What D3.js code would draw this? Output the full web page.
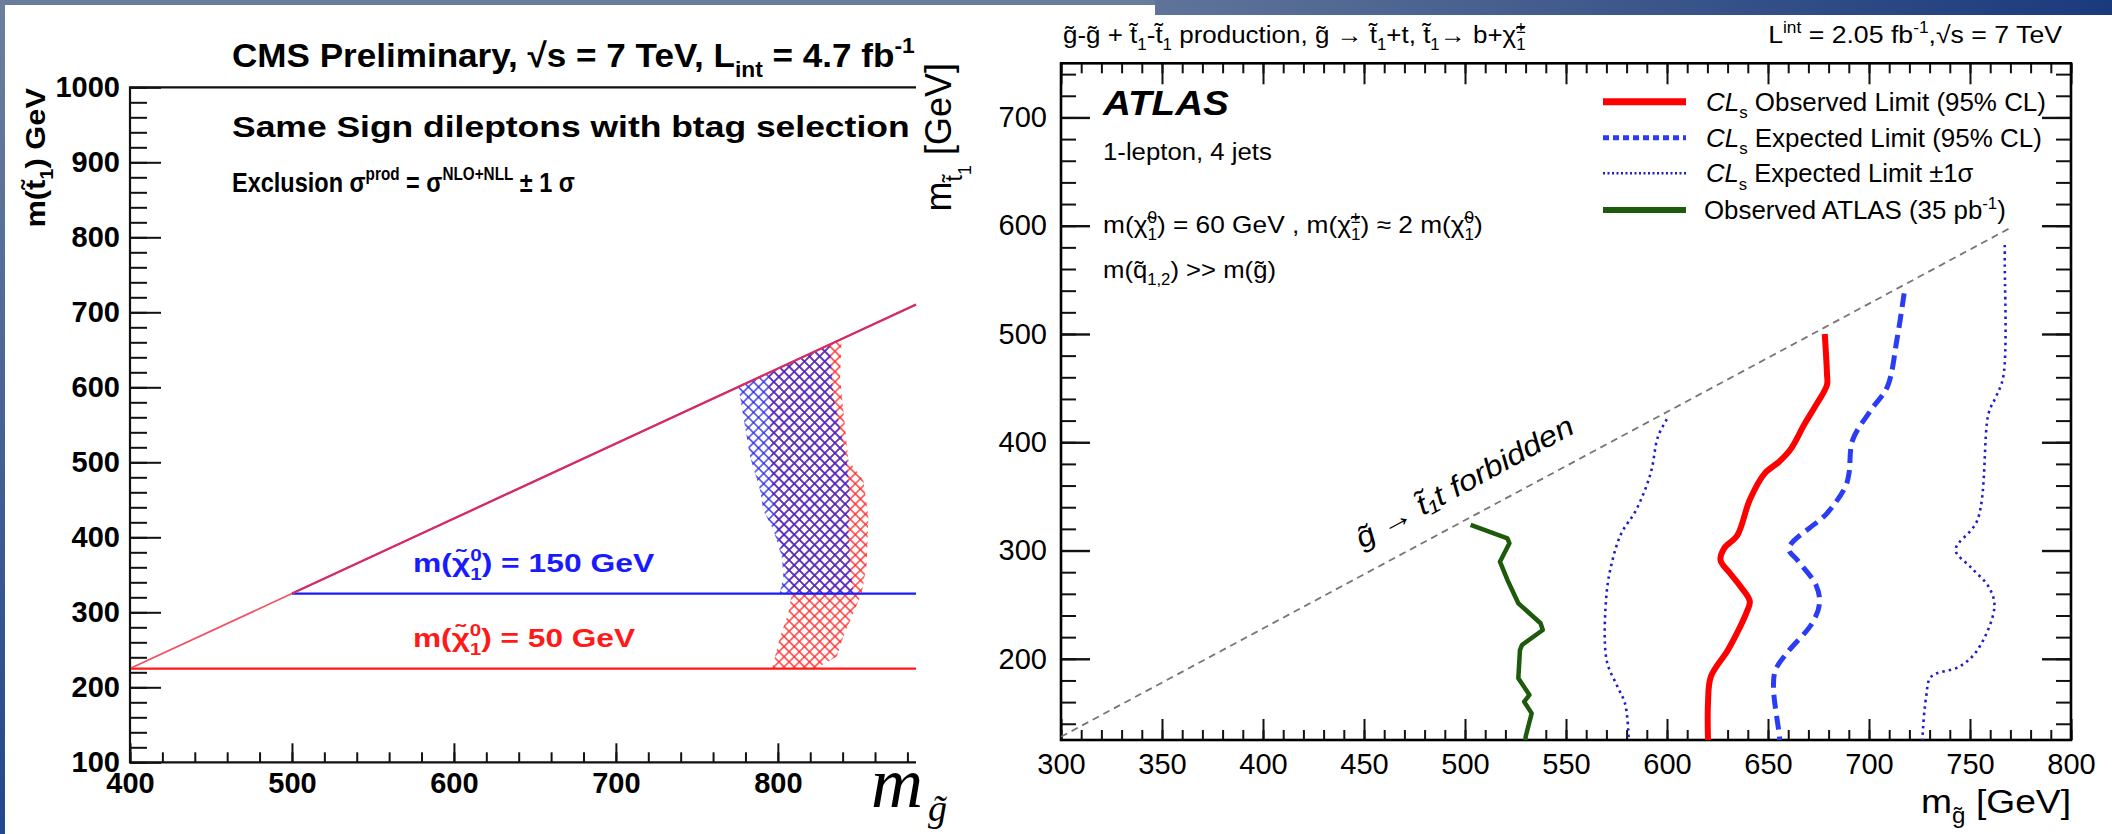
<!DOCTYPE html>
<html><head><meta charset="utf-8">
<script src="https://cdn.jsdelivr.net/npm/d3@7"></script>
<style>html,body{margin:0;padding:0;background:#fff;overflow:hidden}svg{display:block}</style>
</head><body>
<svg id="c" width="2112" height="834"></svg>
<script>
// ================= DATA =================
// --- CMS panel (left) ---
const cmsXTicks = [400, 500, 600, 700, 800];
const cmsYTicks = [100, 200, 300, 400, 500, 600, 700, 800, 900, 1000];
const lspMasses = [50, 150];            // neutralino mass of each scenario
const lspStopMin = [225, 325];          // stop mass at kinematic threshold (horizontal lines)
const lspGluinoMin = [400, 500];        // gluino mass where the diagonal starts
const lspColors = ["#ff1a1a", "#1a1aff"];
const diagColors = ["#f2505f", "#d42c62"];
const topMass = 175;
// exclusion bands (gluino mass, stop mass), left edge top->bottom, right edge top->bottom
const band50Left  = [[794.5,619.5],[795.2,543],[796.2,463],[799.3,410],[804.4,365],[808.6,325],[806.5,299],[801.4,267.5],[797.2,232],[796.5,225]];
const band50Right = [[839.4,664.4],[838.4,614],[843.5,503],[852.8,476],[855.9,427.5],[854.9,365],[851.8,325],[840.4,267.5],[836.4,241],[826,228],[824,225]];
const band150Left  = [[775.6,600.6],[778.7,561],[782.8,507.5],[789,463],[791,436],[797.2,410],[802.4,374],[803.4,347.5],[801.4,327.5],[801,325]];
const band150Right = [[832,657],[834.3,587.5],[842.5,503],[844.6,454],[843.5,410],[844.6,365],[846.6,325]];

// --- ATLAS panel (right) ---
const atlasXMajor = [300,350,400,450,500,550,600,650,700,750,800];
const atlasYMajor = [200,300,400,500,600,700];
const obsLimit = [[678.1,500],[679.2,463],[679.2,453],[674,435],[668.3,417.5],[661,393],[655.5,382],[648.3,371],[641,347],[634.8,314],[628.3,302],[626.5,291],[631.2,279],[636.3,267],[641,253],[639.2,242],[636.3,230],[630.1,208],[621.7,183.5],[620.3,159],[620.3,125]];
const expLimit = [[717.4,537.6],[713.8,494.4],[709.1,451.3],[701,429.8],[691.9,402],[690.1,371.3],[688.3,359],[679.2,334.4],[660.3,302],[664.6,291],[673.8,268],[675.5,251],[671.9,233],[659.2,205],[653.8,190],[652.7,174],[655.5,131],[655.8,125]];
const expMinus1s = [[599.9,421.2],[595.5,405],[591.9,371.3],[584.7,337.4],[577.4,315.9],[573,291],[570.1,260.5],[570.1,198.9],[575.5,174.2],[579.2,158.9],[581,128],[581,125]];
const expPlus1s = [[767.2,582.2],[767.2,568.3],[766.5,460.6],[762.9,442.1],[759.2,426.7],[753.7,328.2],[742.9,300.5],[750.1,285.1],[759.2,266.6],[762.1,248.1],[753.7,208.1],[744.7,192.7],[730.8,183.5],[728.3,165],[726.5,128],[726.5,125]];
const atlas35 = [[502.8,323.6],[521,311.3],[522,306.7],[517.3,289.7],[521,272.8],[526.4,251.3],[537.4,232.8],[538.5,226.6],[528.2,212.7],[527.2,208],[526.4,182],[531.9,166.6],[529.3,160.4],[533,149.6],[530,128],[530,125]];
const forbiddenLine = [[300,128],[770,598]];

// ================= HELPERS =================
const svg = d3.select("#c");
const SANS = "'Liberation Sans', Arial, Helvetica, sans-serif";
const T = "\u0303"; // combining tilde

function rich(parent, x, y, parts, o) {
  o = o || {};
  const fs = o.size || 24;
  const g = parent.append("g");
  const t = g.append("text").attr("x", 0).attr("y", 0)
    .attr("font-family", o.family || SANS).attr("font-size", fs)
    .attr("fill", o.fill || "#000").attr("font-weight", o.weight || "normal")
    .attr("font-style", o.style || "normal").attr("text-anchor", o.anchor || "start");
  let cur = 0, prevSup = null;
  parts.forEach(p => {
    const str = Array.isArray(p) ? p[0] : p;
    const kind = Array.isArray(p) ? (p[1] || "") : "";
    let target = 0, size = fs;
    if (kind === "sup") { target = -0.42 * fs; size = 0.65 * fs; }
    else if (kind === "sub" || kind === "sub2") { target = 0.3 * fs; size = 0.65 * fs; }
    else if (kind === "subsub") { target = 0.55 * fs; size = 0.5 * fs; }
    const ts = t.append("tspan").attr("font-size", size).attr("dy", target - cur).text(str);
    if (kind === "it") ts.attr("font-style", "italic");
    if (kind === "sub2" && prevSup) ts.attr("dx", -prevSup.node().getComputedTextLength());
    cur = target;
    prevSup = (kind === "sup") ? ts : null;
  });
  let k = 1;
  if (o.width) {
    const w = t.node().getBBox().width;
    if (w > 0) k = Math.max(0.7, Math.min(1.5, o.width / w));
  }
  let tr = `translate(${x},${y})`;
  if (o.rotate) tr += ` rotate(${o.rotate})`;
  if (k !== 1) tr += ` scale(${k},1)`;
  g.attr("transform", tr);
  return g;
}

// ================= BACKGROUND =================
const defs = svg.append("defs");
const gV = defs.append("linearGradient").attr("id", "gv").attr("x1", 0).attr("y1", 0).attr("x2", 0).attr("y2", 1);
gV.append("stop").attr("offset", 0).attr("stop-color", "#6d7f9c");
gV.append("stop").attr("offset", 1).attr("stop-color", "#22478c");
const gH = defs.append("linearGradient").attr("id", "gh").attr("x1", 0).attr("y1", 0).attr("x2", 1).attr("y2", 0);
gH.append("stop").attr("offset", 0).attr("stop-color", "#5f7499");
gH.append("stop").attr("offset", 1).attr("stop-color", "#1b3a7d");
svg.append("rect").attr("width", 2112).attr("height", 834).attr("fill", "#fff");
svg.append("rect").attr("x", 0).attr("y", 0).attr("width", 1155).attr("height", 5).attr("fill", "#687c9c");
svg.append("rect").attr("x", 1155).attr("y", 0).attr("width", 957).attr("height", 15).attr("fill", "url(#gh)");
svg.append("rect").attr("x", 0).attr("y", 0).attr("width", 5).attr("height", 834).attr("fill", "url(#gv)");

// hatch patterns
function hatch(id, color) {
  const s = 7.2;
  const p = defs.append("pattern").attr("id", id).attr("patternUnits", "userSpaceOnUse")
    .attr("width", s).attr("height", s).attr("patternTransform", "rotate(45)");
  p.append("path").attr("d", `M0,${s/2}H${s}M${s/2},0V${s}`)
    .attr("stroke", color).attr("stroke-width", 1.3).attr("fill", "none");
}
hatch("h50", "#ff2a2a");
hatch("h150", "#2a2ae8");

// ================= CMS PANEL =================
const cx = d3.scaleLinear().domain([400, 885.3]).range([130, 916]);
const cy = d3.scaleLinear().domain([100, 1000]).range([762.3, 87.3]);
const cms = svg.append("g");

// bands
const bandLine = d3.line().x(d => cx(d[0])).y(d => cy(d[1]));
const bands = [[band50Left, band50Right, "url(#h50)"], [band150Left, band150Right, "url(#h150)"]];
bands.forEach(([L, R, f]) => {
  const pts = L.concat(R.slice().reverse());
  cms.append("path").attr("d", bandLine(pts) + "Z").attr("fill", f).attr("stroke", "none");
});

// kinematic lines
lspMasses.forEach((m, i) => {
  cms.append("line").attr("x1", cx(lspGluinoMin[i])).attr("x2", cx(885.3))
    .attr("y1", cy(lspStopMin[i])).attr("y2", cy(lspStopMin[i]))
    .attr("stroke", lspColors[i]).attr("stroke-width", 2.2);
});
lspMasses.forEach((m, i) => {
  cms.append("line").attr("x1", cx(lspGluinoMin[i])).attr("y1", cy(lspGluinoMin[i] - topMass))
    .attr("x2", cx(885.3)).attr("y2", cy(885.3 - topMass))
    .attr("stroke", diagColors[i]).attr("stroke-width", i === 0 ? 1.8 : 2.2);
});

// axes
function styleAxis(g, w) {
  g.select(".domain").remove();
  g.selectAll("line").attr("stroke", "#111").attr("stroke-width", w || 2);
}
cms.append("g").attr("transform", "translate(0,762.3)")
  .call(d3.axisBottom(cx).tickValues(d3.range(400, 886, 20)).tickSize(-10).tickSizeOuter(0).tickFormat(""))
  .call(g => styleAxis(g));
cms.append("g").attr("transform", "translate(0,762.3)")
  .call(d3.axisBottom(cx).tickValues(cmsXTicks).tickSize(-19).tickSizeOuter(0).tickPadding(10).tickFormat(d3.format("d")))
  .call(g => { styleAxis(g); g.selectAll("text").attr("font-family", SANS).attr("font-weight", "bold").attr("font-size", 29).attr("fill", "#000"); });
cms.append("g").attr("transform", "translate(130,0)")
  .call(d3.axisLeft(cy).tickValues(d3.range(100, 1001, 20)).tickSize(-17).tickSizeOuter(0).tickFormat(""))
  .call(g => styleAxis(g));
cms.append("g").attr("transform", "translate(130,0)")
  .call(d3.axisLeft(cy).tickValues(cmsYTicks).tickSize(-31).tickSizeOuter(0).tickPadding(10).tickFormat(d3.format("d")))
  .call(g => { styleAxis(g); g.selectAll("text").attr("font-family", SANS).attr("font-weight", "bold").attr("font-size", 29).attr("fill", "#000"); });
// frame lines
cms.append("path").attr("d", `M${cx(885.3)},${cy(1000)}H130V${cy(100)}H${cx(885.3)}`)
  .attr("fill", "none").attr("stroke", "#111").attr("stroke-width", 2.2);

// CMS texts
rich(cms, 232, 67, [["CMS Preliminary, √s = 7 TeV, L"], ["int", "sub"], [" = 4.7 fb"], ["-1", "sup"]],
  { size: 34, weight: "bold", width: 683 });
rich(cms, 232, 137, ["Same Sign dileptons with btag selection"], { size: 30, weight: "bold", width: 678 });
rich(cms, 232, 192, [["Exclusion σ"], ["prod", "sup"], [" = σ"], ["NLO+NLL", "sup"], [" ± 1 σ"]],
  { size: 28, weight: "bold", width: 343 });
rich(cms, 45, 88, [["m(t" + T], ["1", "sub"], [") GeV"]], { size: 28, weight: "bold", anchor: "end", rotate: -90, width: 140 });
const lspLabelY = [647, 572];
const lspLabelW = [223, 242];
lspMasses.forEach((m, i) => {
  rich(cms, 413, lspLabelY[i], [["m(χ" + T], ["0", "sup"], ["1", "sub2"], [") = " + m + " GeV"]],
    { size: 26, weight: "bold", fill: lspColors[i], width: lspLabelW[i] });
});
// big m_g label
cms.append("text").attr("x", 871).attr("y", 807).attr("font-family", "'Liberation Serif','DejaVu Serif',serif")
  .attr("font-style", "italic").attr("font-size", 72).attr("fill", "#000").text("m");
cms.append("text").attr("x", 928).attr("y", 821).attr("font-family", "'Liberation Serif','DejaVu Serif',serif")
  .attr("font-style", "italic").attr("font-size", 38).attr("fill", "#000").text("g" + T);

// ================= ATLAS PANEL =================
const ax = d3.scaleLinear().domain([300, 800]).range([1061, 2071]);
const ay = d3.scaleLinear().domain([125, 750]).range([740, 63.3]);
const at = svg.append("g");

function tickLabels(g, fs) {
  g.selectAll("text").attr("font-family", SANS).attr("font-size", fs).attr("fill", "#000");
}
at.append("g").attr("transform", "translate(0,740)")
  .call(d3.axisBottom(ax).tickValues(d3.range(300, 801, 10)).tickSize(-10).tickSizeOuter(0).tickFormat(""))
  .call(g => styleAxis(g, 2));
at.append("g").attr("transform", "translate(0,740)")
  .call(d3.axisBottom(ax).tickValues(atlasXMajor).tickSize(-21).tickSizeOuter(0).tickPadding(13).tickFormat(d3.format("d")))
  .call(g => { styleAxis(g, 2); tickLabels(g, 29); });
at.append("g").attr("transform", "translate(0,63.3)")
  .call(d3.axisTop(ax).tickValues(d3.range(300, 801, 10)).tickSize(-10).tickSizeOuter(0).tickFormat(""))
  .call(g => styleAxis(g, 2));
at.append("g").attr("transform", "translate(0,63.3)")
  .call(d3.axisTop(ax).tickValues(atlasXMajor).tickSize(-21).tickSizeOuter(0).tickFormat(""))
  .call(g => styleAxis(g, 2));
at.append("g").attr("transform", "translate(1061,0)")
  .call(d3.axisLeft(ay).tickValues(d3.range(140, 741, 20)).tickSize(-15).tickSizeOuter(0).tickFormat(""))
  .call(g => styleAxis(g, 2));
at.append("g").attr("transform", "translate(1061,0)")
  .call(d3.axisLeft(ay).tickValues(atlasYMajor).tickSize(-29).tickSizeOuter(0).tickPadding(14).tickFormat(d3.format("d")))
  .call(g => { styleAxis(g, 2.4); tickLabels(g, 29); });
at.append("g").attr("transform", "translate(2071,0)")
  .call(d3.axisRight(ay).tickValues(d3.range(140, 741, 20)).tickSize(-15).tickSizeOuter(0).tickFormat(""))
  .call(g => styleAxis(g, 2));
at.append("g").attr("transform", "translate(2071,0)")
  .call(d3.axisRight(ay).tickValues(atlasYMajor).tickSize(-29).tickSizeOuter(0).tickFormat(""))
  .call(g => styleAxis(g, 2.4));
at.append("rect").attr("x", 1061).attr("y", 63.3).attr("width", 1010).attr("height", 676.7)
  .attr("fill", "none").attr("stroke", "#000").attr("stroke-width", 2.6);

// curves
const aline = d3.line().x(d => ax(d[0])).y(d => ay(d[1]));
const asmooth = d3.line().x(d => ax(d[0])).y(d => ay(d[1])).curve(d3.curveCatmullRom.alpha(0.5));
at.append("path").attr("d", aline(forbiddenLine)).attr("fill", "none")
  .attr("stroke", "#777").attr("stroke-width", 1.8).attr("stroke-dasharray", "7,5");
const curveStyles = [
  { data: expMinus1s, color: "#1f1fc8", w: 2.6, dash: "2.5,4", gen: asmooth },
  { data: expPlus1s, color: "#1f1fc8", w: 2.6, dash: "2.5,4", gen: asmooth },
  { data: expLimit, color: "#2b3cf5", w: 5, dash: "14,7", gen: asmooth },
  { data: obsLimit, color: "#ff0000", w: 6, dash: null, gen: asmooth },
  { data: atlas35, color: "#1d5a0c", w: 4.5, dash: null, gen: aline }
];
curveStyles.forEach(c => {
  const p = at.append("path").attr("d", c.gen(c.data)).attr("fill", "none")
    .attr("stroke", c.color).attr("stroke-width", c.w).attr("stroke-linejoin", "round");
  if (c.dash) p.attr("stroke-dasharray", c.dash);
});

// legend
const legendY = [101.7, 137.7, 173.3, 210];
const legendStyle = [
  { color: "#ff0000", w: 7, dash: null },
  { color: "#2b3cf5", w: 5, dash: "6,4" },
  { color: "#1f1fc8", w: 2.6, dash: "2,2.5" },
  { color: "#1d5a0c", w: 6, dash: null }
];
const legendText = [
  [["CL", "it"], ["s", "sub"], [" Observed Limit (95% CL)"]],
  [["CL", "it"], ["s", "sub"], [" Expected Limit (95% CL)"]],
  [["CL", "it"], ["s", "sub"], [" Expected Limit ±1σ"]],
  [["Observed ATLAS (35 pb"], ["-1", "sup"], [")"]]
];
const legendW = [340, 336, 268, 302];
legendY.forEach((y, i) => {
  const s = legendStyle[i];
  const l = at.append("line").attr("x1", 1603).attr("x2", 1686).attr("y1", y).attr("y2", y)
    .attr("stroke", s.color).attr("stroke-width", s.w);
  if (s.dash) l.attr("stroke-dasharray", s.dash);
  rich(at, i === 3 ? 1704 : 1706, y + 9, legendText[i], { size: 25, width: legendW[i] });
});

// texts
rich(at, 1063, 43, [["g" + T + "-g" + T + " + t" + T], ["1", "sub"], ["-t" + T], ["1", "sub"],
  [" production, g" + T + " → t" + T], ["1", "sub"], ["+t,  t" + T], ["1", "sub"], ["→ b+χ" + T], ["±", "sup"], ["1", "sub2"]],
  { size: 24, width: 463 });
rich(at, 2062, 43, [["L"], ["int", "sup"], [" = 2.05 fb"], ["-1", "sup"], [",√s = 7 TeV"]], { size: 24, anchor: "end", width: 294 });
rich(at, 1103, 115, ["ATLAS"], { size: 36, weight: "bold", style: "italic", width: 127 });
rich(at, 1103, 160, ["1-lepton, 4 jets"], { size: 24, width: 169 });
rich(at, 1103, 233, [["m(χ" + T], ["0", "sup"], ["1", "sub2"], [") = 60 GeV , m(χ" + T], ["±", "sup"], ["1", "sub2"],
  [") ≈ 2 m(χ" + T], ["0", "sup"], ["1", "sub2"], [")"]], { size: 24, width: 380 });
rich(at, 1103, 278, [["m(q" + T], ["1,2", "sub"], [") >> m(g" + T + ")"]], { size: 24, width: 173 });
rich(at, 1362, 549, ["g" + T + " → t" + T + "\u2081t forbidden"], { size: 29, style: "italic", rotate: -28.6, width: 244 });
rich(at, 2071, 813, [["m"], ["g" + T, "sub"], [" [GeV]"]], { size: 34, anchor: "end", width: 150 });
rich(at, 951, 63, [["m"], ["t" + T, "sub"], ["1", "subsub"], [" [GeV]"]], { size: 36, anchor: "end", rotate: -90 });
</script>
</body></html>
